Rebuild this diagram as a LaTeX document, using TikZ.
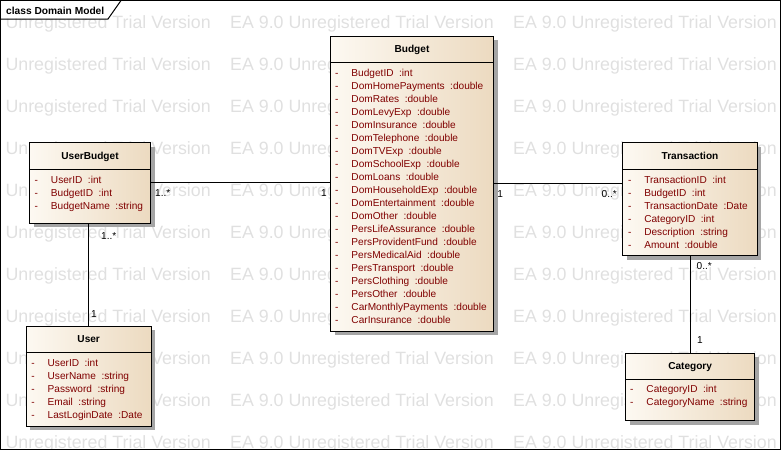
\documentclass[tikz,border=0pt]{standalone}
\usepackage{fontspec}
\setmainfont{Liberation Sans}
\usetikzlibrary{calc,shadows}

\definecolor{boxl}{RGB}{253,249,242}
\definecolor{boxr}{RGB}{236,218,192}
\definecolor{attrred}{RGB}{128,0,0}
\definecolor{wmgray}{RGB}{224,224,224}
\definecolor{shadowgray}{RGB}{165,165,165}

\begin{document}
\begin{tikzpicture}
  [x=1pt, y=-1pt,
   classbox/.style={draw, line width=1pt, left color=boxl, right color=boxr,
     anchor=north west, inner sep=0pt,
     drop shadow={shadow xshift=4pt, shadow yshift=-4pt, fill=shadowgray, opacity=1}},
   classname/.style={font=\bfseries\fontsize{10.1}{12}\selectfont, anchor=base, inner sep=0pt},
   attr/.style={font=\fontsize{10.1}{12}\selectfont, text=attrred, anchor=base west, inner sep=0pt},
   mult/.style={font=\fontsize{10.1}{12}\selectfont, anchor=base west, inner sep=0pt},
   wmark/.style={font=\fontsize{17.8}{20}\selectfont, text=wmgray, anchor=base west, inner sep=0pt},
   assoc/.style={line width=1pt}]
  \useasboundingbox (0,0) rectangle (782,451);

  % trial watermark
  \begin{scope}
    \clip (1,1) rectangle (780,449);
    \foreach \r in {0,...,10}
      \foreach \c in {0,...,3}
        \node[wmark] (wm-\r-\c) at (-53+283*\c, 28.3+42*\r) {EA 9.0 Unregistered Trial Version};
  \end{scope}

  % frame
  \draw[line width=1pt] (0.5,0.5) rectangle (780.5,449.5);
  \fill[white] (1,1) -- (121,1) -- (108,18.5) -- (1,18.5) -- cycle;
  \draw[line width=1pt] (0.5,19) -- (108,19) -- (121,0.5);
  \node[anchor=base west, inner sep=0pt, font=\bfseries\fontsize{10.2}{12}\selectfont]
    (frametitle) at (6,14.3) {class Domain Model};

  % UserBudget
  \node[classbox, minimum width=121pt, minimum height=80.5pt] (userbudget) at (29,142) {};
  \node[classname] (userbudget-name) at ($(userbudget.north)+(0,17)$) {UserBudget};
  \draw[line width=1pt] ($(userbudget.north west)+(0,27)$) -- ($(userbudget.north east)+(0,27)$);
  \foreach \nm/\ty [count=\i] in {UserID/int, BudgetID/int, BudgetName/string}
    \node[attr] (userbudget-\i) at ($(userbudget.north west)+(5.5,28+13*\i)$)
      {\makebox[16.3pt][l]{-}\nm\hspace{.55em}:\ty};

  % User
  \node[classbox, minimum width=125pt, minimum height=100pt] (user) at (25.7,325.7) {};
  \node[classname] (user-name) at ($(user.north)+(0,17)$) {User};
  \draw[line width=1pt] ($(user.north west)+(0,27)$) -- ($(user.north east)+(0,27)$);
  \foreach \nm/\ty [count=\i] in {UserID/int, UserName/string, Password/string, Email/string,
      LastLoginDate/Date}
    \node[attr] (user-\i) at ($(user.north west)+(5.5,27.5+13*\i)$)
      {\makebox[16.3pt][l]{-}\nm\hspace{.55em}:\ty};

  % Budget
  \node[classbox, minimum width=163pt, minimum height=295pt] (budget) at (330,35.5) {};
  \node[classname] (budget-name) at ($(budget.north)+(0,17)$) {Budget};
  \draw[line width=1pt] ($(budget.north west)+(0,27)$) -- ($(budget.north east)+(0,27)$);
  \foreach \nm/\ty [count=\i] in {BudgetID/int, DomHomePayments/double, DomRates/double,
      DomLevyExp/double, DomInsurance/double, DomTelephone/double, DomTVExp/double,
      DomSchoolExp/double, DomLoans/double, DomHouseholdExp/double, DomEntertainment/double,
      DomOther/double, PersLifeAssurance/double, PersProvidentFund/double, PersMedicalAid/double,
      PersTransport/double, PersClothing/double, PersOther/double, CarMonthlyPayments/double,
      CarInsurance/double}
    \node[attr] (budget-\i) at ($(budget.north west)+(5,28+13*\i)$)
      {\makebox[16.3pt][l]{-}\nm\hspace{.55em}:\ty};

  % Transaction
  \node[classbox, minimum width=134.4pt, minimum height=113pt] (transaction) at (622.3,142.3) {};
  \node[classname] (transaction-name) at ($(transaction.north)+(0,17.5)$) {Transaction};
  \draw[line width=1pt] ($(transaction.north west)+(0,27)$) -- ($(transaction.north east)+(0,27)$);
  \foreach \nm/\ty [count=\i] in {TransactionID/int, BudgetID/int, TransactionDate/Date,
      CategoryID/int, Description/string, Amount/double}
    \node[attr] (transaction-\i) at ($(transaction.north west)+(5.5,28+13*\i)$)
      {\makebox[16.3pt][l]{-}\nm\hspace{.55em}:\ty};

  % Category
  \node[classbox, minimum width=129.3pt, minimum height=67.3pt] (category) at (625,352.7) {};
  \node[classname] (category-name) at ($(category.north)+(0,17)$) {Category};
  \draw[line width=1pt] ($(category.north west)+(0,26.5)$) -- ($(category.north east)+(0,26.5)$);
  \foreach \nm/\ty [count=\i] in {CategoryID/int, CategoryName/string}
    \node[attr] (category-\i) at ($(category.north west)+(5,27.2+13*\i)$)
      {\makebox[16.3pt][l]{-}\nm\hspace{.55em}:\ty};

  % associations
  \draw[assoc] (userbudget.east) -- (userbudget.east -| budget.west);
  \draw[assoc] (budget.east) -- (budget.east -| transaction.west);
  \draw[assoc] (user.north) -- (user.north |- userbudget.south);
  \draw[assoc] (transaction.south) -- (transaction.south |- category.north);

  % multiplicities
  \node[mult] (m-ub-b) at (155,196.3) {1..*};
  \node[mult] (m-b-ub) at (320.8,196.3) {1};
  \node[mult] (m-b-t) at (497.2,197) {1};
  \node[mult] (m-t-b) at (601.5,197) {0..*};
  \node[mult] (m-ub-u) at (101,239.3) {1..*};
  \node[mult] (m-u-ub) at (90.8,317) {1};
  \node[mult] (m-t-c) at (696.5,269.6) {0..*};
  \node[mult] (m-c-t) at (696.8,343.6) {1};
\end{tikzpicture}
\end{document}
